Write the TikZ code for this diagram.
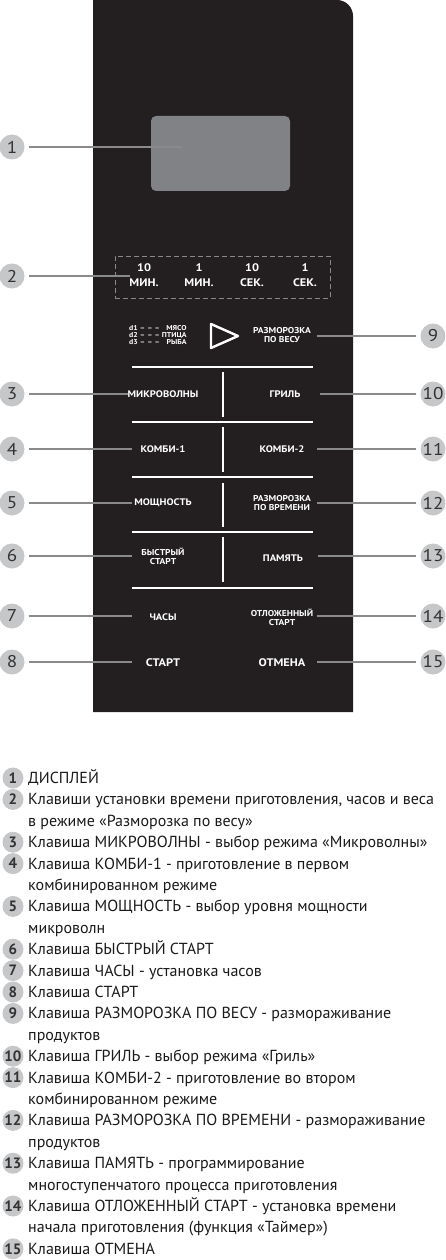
\documentclass[tikz,border=0pt]{standalone}
\usepackage{fontspec}
\setmainfont{PT Sans}[FakeStretch=1.12]
\newfontfamily\legfont{PT Sans}
\usepackage{tikz}
\usetikzlibrary{calc}
\definecolor{pnlblack}{HTML}{231F20}
\definecolor{dspgray}{HTML}{808285}
\definecolor{calgray}{HTML}{C6C7C9}
\definecolor{leadgray}{HTML}{8A8A8A}
\definecolor{numdark}{HTML}{333333}
\definecolor{txtdark}{HTML}{1A1A1A}
\newcommand{\dline}{\makebox[20pt]{–\hfill–\hfill–}}

\begin{document}
\begin{tikzpicture}[
  x=1pt, y=-1pt,
  key/.style={text=white, align=center, inner sep=0pt,
              font=\fontsize{9.5}{10}\selectfont\bfseries},
  keytwo/.style={key, font=\fontsize{8.5}{9}\selectfont\bfseries},
  lkey/.style={minimum width=62pt},
  rkey/.style={minimum width=70pt},
  call/.style={circle, fill=calgray, text=numdark, minimum size=25pt,
               inner sep=0pt, font=\fontsize{17}{17}\selectfont},
  lead/.style={draw=leadgray, line width=1.1pt, shorten <=4pt},
  sep/.style={draw=white, line width=1.8pt},
  lnum/.style={circle, fill=calgray, text=numdark, minimum size=21pt,
               inner sep=0pt, font=\legfont\fontsize{15}{15}\selectfont\bfseries},
  ltext/.style={anchor=base west, inner sep=0pt, text=txtdark, align=left,
                font=\legfont\fontsize{16}{21.4}\selectfont}
]
\useasboundingbox (0,0) rectangle (446,1260);

% control panel
\fill[pnlblack] (93,712) -- (93,0) [rounded corners=16pt] -- (353,0)
  [sharp corners] -- (353,712) -- cycle;
\node[fill=dspgray, rounded corners=5pt, minimum width=139pt,
      minimum height=75pt, inner sep=0pt] (disp) at (220.5,153.5) {};

% time keys
\node[draw=leadgray, dashed, dash pattern=on 5pt off 3pt, line width=0.8pt,
      minimum width=215pt, minimum height=42pt, inner sep=0pt] (tbox) at (222.5,277) {};
\node[key, font=\fontsize{11}{15}\selectfont\bfseries] (t10m) at (144,275) {10\\МИН.};
\node[key, font=\fontsize{11}{15}\selectfont\bfseries] (t1m) at (199,275) {1\\МИН.};
\node[key, font=\fontsize{11}{15}\selectfont\bfseries] (t10s) at (252,275) {10\\СЕК.};
\node[key, font=\fontsize{11}{15}\selectfont\bfseries] (t1s) at (305,275) {1\\СЕК.};

% weight defrost
\node[key, font=\fontsize{7}{9.5}\selectfont\bfseries, anchor=west] (dlist) at (129,336)
  {\begin{tabular}{@{}l@{\ }c@{\ }r@{}}
   d1 & \dline & МЯСО\\[-2.5pt] d2 & \dline & ПТИЦА\\[-2.5pt] d3 & \dline & РЫБА
   \end{tabular}};
\draw[white, line width=2.4pt, line join=round] (211,324) -- (238,336) -- (211,348) -- cycle;
\node[keytwo, rkey] (k9) at (282,335) {РАЗМОРОЗКА\\ПО ВЕСУ};

% key grid
\foreach \yy in {367,422,477,532,588}
  \draw[sep] (132,\yy) -- (313,\yy);
\foreach \ya/\yb in {372/417,427/472,483/527,537/582}
  \draw[sep] (223,\ya) -- (223,\yb);

\node[key, lkey] (k3) at (163,394) {МИКРОВОЛНЫ};
\node[key, lkey] (k4) at (163,449) {КОМБИ-1};
\node[key, lkey] (k5) at (163,503) {МОЩНОСТЬ};
\node[keytwo, lkey] (k6) at (163,556) {БЫСТРЫЙ\\СТАРТ};
\node[key, lkey] (k7) at (163,617) {ЧАСЫ};
\node[key, lkey, font=\fontsize{11}{11}\selectfont\bfseries] (k8) at (163,663) {СТАРТ};
\node[key, rkey] (k10) at (285,394) {ГРИЛЬ};
\node[key, rkey] (k11) at (282,449) {КОМБИ-2};
\node[keytwo, rkey] (k12) at (282,503) {РАЗМОРОЗКА\\ПО ВРЕМЕНИ};
\node[key, rkey] (k13) at (283,558) {ПАМЯТЬ};
\node[keytwo, rkey] (k14) at (282,617) {ОТЛОЖЕННЫЙ\\СТАРТ};
\node[key, rkey, font=\fontsize{11}{11}\selectfont\bfseries] (k15) at (282,663) {ОТМЕНА};

% callouts
\node[call] (c1) at (12,147) {1};
\node[call] (c2) at (12,276) {2};
\node[call] (c3) at (12,394) {3};
\node[call] (c4) at (12,449) {4};
\node[call] (c5) at (12,503) {5};
\node[call] (c6) at (12,556) {6};
\node[call] (c7) at (12,616) {7};
\node[call] (c8) at (12,662) {8};
\node[call] (c9) at (433,336) {9};
\node[call] (c10) at (433,394) {10};
\node[call] (c11) at (433,449) {11};
\node[call] (c12) at (433,503) {12};
\node[call] (c13) at (433,556) {13};
\node[call] (c14) at (433,616) {14};
\node[call] (c15) at (433,662) {15};

\coordinate (e1) at (182,147);
\coordinate (e2) at (130,276);
\draw[lead] (c1) -- (e1);
\draw[lead] (c2) -- (e2);
\foreach \i in {3,...,8}
  \draw[lead] (c\i) -- (c\i -| k\i.west);
\foreach \i in {9,...,15}
  \draw[lead] (c\i) -- (c\i -| k\i.east);

% legend (base = last line)
\node[lnum] (n1) at (13,778) {1};
\node[ltext] (l1) at (28,783.5) {ДИСПЛЕЙ};
\node[lnum] (n2) at (13,799.4) {2};
\node[ltext] (l2) at (28,826.3) {Клавиши установки времени приготовления, часов и веса\\в режиме «Разморозка по весу»};
\node[lnum] (n3) at (13,842.2) {3};
\node[ltext] (l3) at (28,847.7) {Клавиша МИКРОВОЛНЫ - выбор режима «Микроволны»};
\node[lnum] (n4) at (13,863.6) {4};
\node[ltext] (l4) at (28,890.5) {Клавиша КОМБИ-1 - приготовление в первом\\комбинированном режиме};
\node[lnum] (n5) at (13,906.4) {5};
\node[ltext] (l5) at (28,933.3) {Клавиша МОЩНОСТЬ - выбор уровня мощности\\микроволн};
\node[lnum] (n6) at (13,949.2) {6};
\node[ltext] (l6) at (28,954.7) {Клавиша БЫСТРЫЙ СТАРТ};
\node[lnum] (n7) at (13,970.6) {7};
\node[ltext] (l7) at (28,976.1) {Клавиша ЧАСЫ - установка часов};
\node[lnum] (n8) at (13,992) {8};
\node[ltext] (l8) at (28,997.5) {Клавиша СТАРТ};
\node[lnum] (n9) at (13,1013.4) {9};
\node[ltext] (l9) at (28,1040.3) {Клавиша РАЗМОРОЗКА ПО ВЕСУ - размораживание\\продуктов};
\node[lnum] (n10) at (13,1056.2) {10};
\node[ltext] (l10) at (28,1061.7) {Клавиша ГРИЛЬ - выбор режима «Гриль»};
\node[lnum] (n11) at (13,1077.6) {11};
\node[ltext] (l11) at (28,1104.5) {Клавиша КОМБИ-2 - приготовление во втором\\комбинированном режиме};
\node[lnum] (n12) at (13,1120.4) {12};
\node[ltext] (l12) at (28,1147.3) {Клавиша РАЗМОРОЗКА ПО ВРЕМЕНИ - размораживание\\продуктов};
\node[lnum] (n13) at (13,1163.2) {13};
\node[ltext] (l13) at (28,1190.1) {Клавиша ПАМЯТЬ - программирование\\многоступенчатого процесса приготовления};
\node[lnum] (n14) at (13,1206) {14};
\node[ltext] (l14) at (28,1232.9) {Клавиша ОТЛОЖЕННЫЙ СТАРТ - установка времени\\начала приготовления (функция «Таймер»)};
\node[lnum] (n15) at (13,1248.8) {15};
\node[ltext] (l15) at (28,1254.3) {Клавиша ОТМЕНА};

\end{tikzpicture}
\end{document}
